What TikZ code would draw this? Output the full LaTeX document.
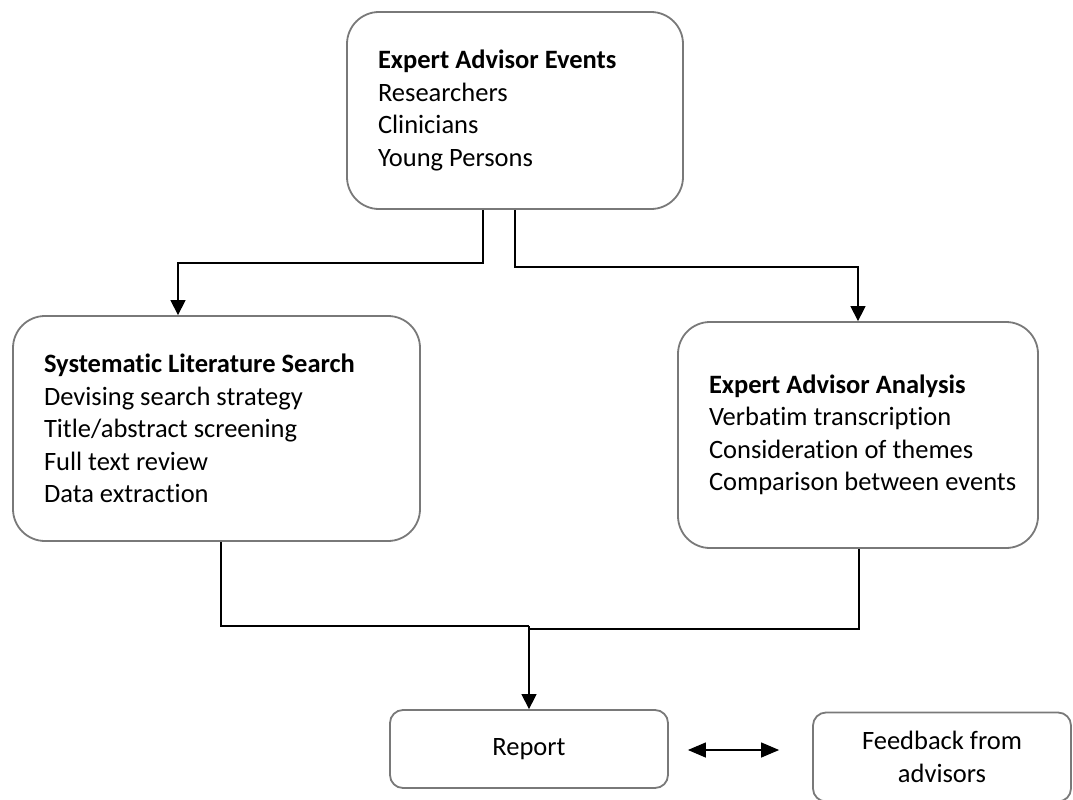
\documentclass[tikz,border=0pt]{standalone}
\usepackage{fontspec}
\setmainfont{Carlito}[Ligatures=NoCommon]
\usetikzlibrary{arrows.meta,calc}

\begin{document}
\begin{tikzpicture}[x=1pt, y=-1pt,
		txt/.style={font=\fontsize{26.5pt}{32.5pt}\selectfont},
		bigbox/.style={txt, draw=gray!95!black, line width=1.8pt, rounded corners=32pt, align=flush left, inner xsep=31pt, inner ysep=0pt},
		smallbox/.style={txt, draw=gray!95!black, line width=1.8pt, rounded corners=13pt, align=flush center, inner sep=0pt},
		link/.style={black, line width=1.3pt},
		arrow/.style={link, -{Triangle[width=15pt, length=15pt]}}]
	\useasboundingbox (0,0) rectangle (1073,800);
	% boxes
	\node[bigbox, text width=274pt, minimum height=197pt] (events) at (515,110.5)
		{\textbf{Expert Advisor Events}\\Researchers\\Clinicians\\Young Persons};
	\node[bigbox, text width=345pt, minimum height=225pt] (search) at (216.5,428.5)
		{\textbf{Systematic Literature Search}\\Devising search strategy\\Title/abstract screening\\Full text review\\Data extraction};
	\node[bigbox, text width=298pt, minimum height=226pt] (analysis) at (858,435)
		{\textbf{Expert Advisor Analysis}\\Verbatim transcription\\Consideration of themes\\\mbox{Comparison between events}};
	\node[smallbox, minimum width=278pt, minimum height=78pt] (report) at (529,749) {Report};
	\node[smallbox, minimum width=258pt, minimum height=89pt] (feedback) at (942,757) {Feedback from\\advisors};
	% connectors
	\coordinate (mergeL) at (529,626);
	\coordinate (mergeR) at (529,629);
	\draw[arrow] ([xshift=-32pt]events.south) -- ++(0,53) -| ([xshift=-38.5pt]search.north);
	\draw[arrow] (events.south) -- ++(0,57) -| (analysis.north);
	\draw[link] ([xshift=4.5pt]search.south) |- (mergeL);
	\draw[link] ([xshift=1pt]analysis.south) |- (mergeR);
	\draw[arrow] (mergeL) -- (report.north);
	\draw[link, {Triangle[width=15pt, length=18pt]}-{Triangle[width=15pt, length=18pt]}] ([xshift=19pt,yshift=-1pt]report.east) -- ([xshift=-33pt,yshift=-1pt]report.east -| feedback.west);
\end{tikzpicture}
\end{document}
